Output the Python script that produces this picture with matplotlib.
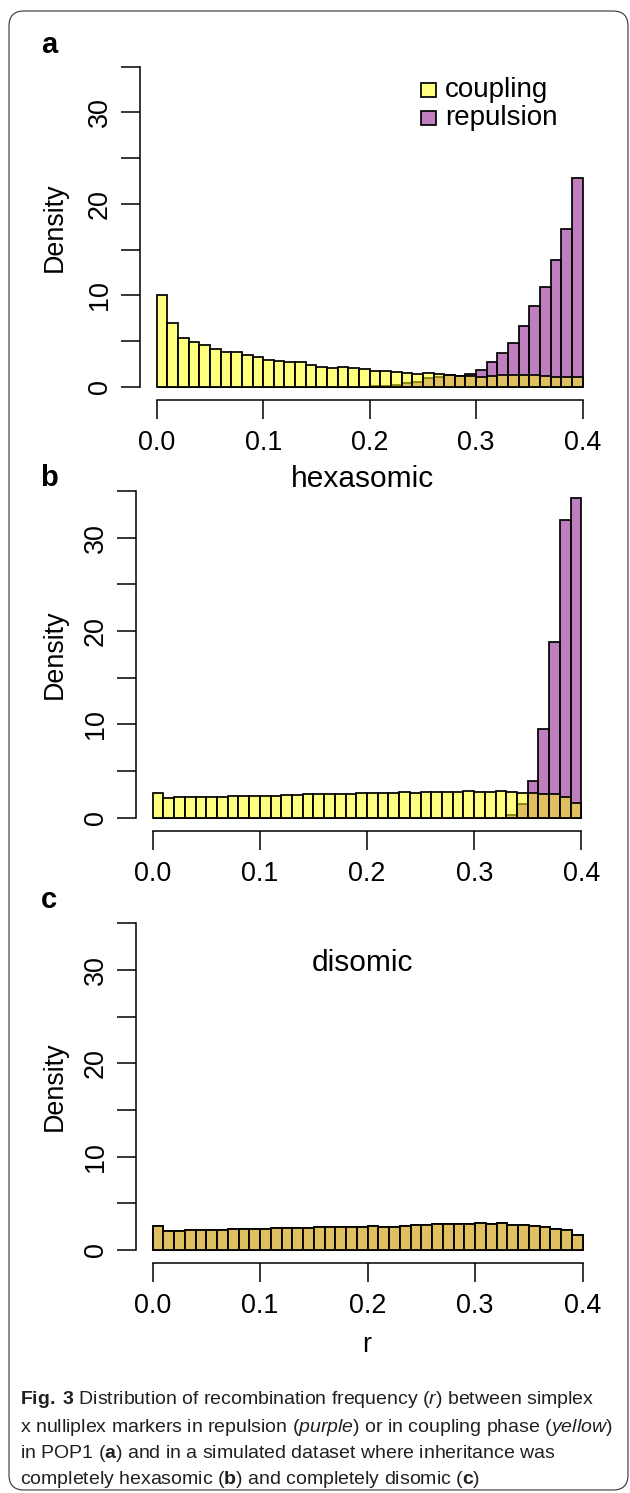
"""Fig. 3: distribution of recombination frequency r for simplex x nulliplex
markers, coupling vs repulsion, in POP1 and in two simulated datasets."""
import matplotlib
matplotlib.use("Agg")
import matplotlib.pyplot as plt
import numpy as np
from matplotlib.patches import FancyBboxPatch, Rectangle

plt.rcParams["font.family"] = ["Liberation Sans", "DejaVu Sans"]
plt.rcParams["mathtext.fontset"] = "custom"
plt.rcParams["mathtext.rm"] = "Liberation Sans"
plt.rcParams["mathtext.it"] = "Liberation Sans:italic"
plt.rcParams["mathtext.bf"] = "Liberation Sans:bold"

BIN_WIDTH = 0.01
N_BINS = 40

# densities per bin (0.00-0.01, 0.01-0.02, ..., 0.39-0.40)
coupling_a = [10.0, 7.0, 5.4, 4.9, 4.6, 4.1, 3.8, 3.8, 3.45, 3.25,
              3.0, 2.8, 2.75, 2.75, 2.4, 2.2, 2.05, 2.15, 2.1, 2.0,
              1.8, 1.75, 1.65, 1.5, 1.42, 1.5, 1.42, 1.35, 1.2, 1.25,
              1.13, 1.2, 1.28, 1.28, 1.35, 1.35, 1.2, 1.13, 1.06, 1.06]
repulsion_a = [0, 0, 0, 0, 0, 0, 0, 0, 0, 0,
               0, 0, 0, 0, 0, 0, 0, 0, 0.02, 0.05,
               0.08, 0.12, 0.2, 0.4, 0.58, 0.95, 1.13, 1.35, 1.2, 1.45,
               1.86, 2.74, 3.69, 4.78, 6.68, 8.87, 10.98, 13.9, 17.27, 22.8]

coupling_b = [2.65, 2.15, 2.18, 2.18, 2.2, 2.22, 2.25, 2.28, 2.3, 2.3,
              2.36, 2.38, 2.42, 2.45, 2.5, 2.52, 2.54, 2.55, 2.57, 2.6,
              2.61, 2.62, 2.62, 2.72, 2.7, 2.71, 2.78, 2.78, 2.72, 2.88,
              2.75, 2.78, 2.82, 2.75, 2.68, 2.68, 2.5, 2.5, 2.25, 1.54]
repulsion_b = [0, 0, 0, 0, 0, 0, 0, 0, 0, 0,
               0, 0, 0, 0, 0, 0, 0, 0, 0, 0,
               0, 0, 0, 0, 0, 0, 0, 0, 0, 0,
               0, 0, 0, 0.3, 1.46, 3.9, 9.55, 18.8, 31.85, 34.3]

coupling_c = [2.57, 2.07, 2.07, 2.14, 2.14, 2.18, 2.18, 2.29, 2.29, 2.29,
              2.29, 2.32, 2.39, 2.39, 2.39, 2.46, 2.46, 2.46, 2.48, 2.5,
              2.6, 2.5, 2.52, 2.57, 2.72, 2.68, 2.75, 2.75, 2.75, 2.78,
              2.86, 2.82, 2.85, 2.68, 2.68, 2.57, 2.43, 2.29, 2.14, 1.6]
repulsion_c = [2.57, 2.07, 2.07, 2.14, 2.14, 2.18, 2.18, 2.29, 2.29, 2.29,
               2.29, 2.32, 2.39, 2.39, 2.39, 2.46, 2.46, 2.46, 2.48, 2.5,
               2.6, 2.5, 2.52, 2.57, 2.72, 2.68, 2.75, 2.75, 2.75, 2.78,
               2.86, 2.82, 2.85, 2.68, 2.68, 2.57, 2.43, 2.29, 2.14, 1.6]

X_TICKS = [0.0, 0.1, 0.2, 0.3, 0.4]
X_LABELS = ["0.0", "0.1", "0.2", "0.3", "0.4"]
Y_TICKS = [0, 5, 10, 15, 20, 25, 30, 35]
Y_LABELS = ["0", "", "10", "", "20", "", "30", ""]

COUPLING_COL = (1.0, 1.0, 0.0, 0.5)
REPULSION_COL = (0.5, 0.0, 0.5, 0.5)

W, H = 630, 1493
TICK_PT = 19 * 72 / 100
FS = 19.4
LW = 1.25


def draw_panel(ax, coupling, repulsion):
    left = np.arange(N_BINS) * BIN_WIDTH
    ax.bar(left, repulsion, width=BIN_WIDTH, align="edge",
           color=REPULSION_COL, edgecolor="black", linewidth=LW)
    ax.bar(left, coupling, width=BIN_WIDTH, align="edge",
           color=COUPLING_COL, edgecolor="black", linewidth=LW)
    ax.set_xlim(-0.016, 0.416)
    ax.set_ylim(-1.4, 36.4)
    for s in ("top", "right"):
        ax.spines[s].set_visible(False)
    ax.spines["left"].set_bounds(0, 35)
    ax.spines["bottom"].set_bounds(0, 0.4)
    for s in ("left", "bottom"):
        ax.spines[s].set_linewidth(1.1)
    ax.set_xticks(X_TICKS, X_LABELS)
    ax.set_yticks(Y_TICKS, Y_LABELS)
    ax.tick_params(axis="both", direction="out", length=TICK_PT, width=1.1,
                   labelsize=FS)
    ax.tick_params(axis="x", pad=8)
    ax.tick_params(axis="y", pad=5.5, labelrotation=90)
    for lab in ax.get_yticklabels():
        lab.set_va("center")


fig = plt.figure(figsize=(W / 100, H / 100), dpi=100)


def px_axes(l, r, t, b):
    return fig.add_axes([l / W, 1 - b / H, (r - l) / W, (b - t) / H])


ax_a = px_axes(139.7, 599.6, 53.9, 399.8)
ax_b = px_axes(135.6, 598.5, 477.9, 830.8)
ax_c = px_axes(135.5, 599.8, 910.2, 1263.1)

draw_panel(ax_a, coupling_a, repulsion_a)
draw_panel(ax_b, coupling_b, repulsion_b)
draw_panel(ax_c, coupling_c, repulsion_c)

# y labels
for yc in (226.8, 654.3, 1086.6):
    fig.text(55 / W, 1 - yc / H, "Density", rotation=90, ha="center",
             va="center", fontsize=FS)

# panel letters
for letter, yc in (("a", 45), ("b", 478), ("c", 900)):
    fig.text(49 / W, 1 - yc / H, letter, ha="center", va="center",
             fontsize=21, fontweight="bold")

fig.text(362 / W, 1 - 479 / H, "hexasomic", ha="center", va="center",
         fontsize=21.5)
ax_c.text(0.195, 30.75, "disomic", ha="center", va="center", fontsize=21.5)
fig.text(367 / W, 1 - 1345 / H, "r", ha="center", va="center", fontsize=FS)

# legend, panel a
for yc, col, name in ((90, COUPLING_COL, "coupling"),
                      (118, REPULSION_COL, "repulsion")):
    fig.patches.append(Rectangle((421 / W, 1 - (yc + 6.5) / H), 15 / W, 13 / H,
                                 transform=fig.transFigure, facecolor=col,
                                 edgecolor="black", linewidth=LW))
    fig.text(445 / W, 1 - yc / H, name, ha="left", va="center", fontsize=20)

# caption
caption = [
    r"$\mathbf{Fig.\;3}$ Distribution of recombination frequency ($\mathit{r}$) between simplex",
    r"x nulliplex markers in repulsion ($\mathit{purple}$) or in coupling phase ($\mathit{yellow}$)",
    r"in POP1 ($\mathbf{a}$) and in a simulated dataset where inheritance was",
    r"completely hexasomic ($\mathbf{b}$) and completely disomic ($\mathbf{c}$)",
]
for line, yc in zip(caption, (1400, 1427, 1453, 1479)):
    fig.text(20 / W, 1 - yc / H, line, ha="left", va="center",
             fontsize=14.0, color="#231f20")

fig.patches.append(FancyBboxPatch((9, 3), 619, 1479, transform=None,
                                  boxstyle="round,pad=0,rounding_size=15",
                                  facecolor="none", edgecolor="#333333",
                                  linewidth=0.8))

fig.savefig("out.png", dpi=100)
